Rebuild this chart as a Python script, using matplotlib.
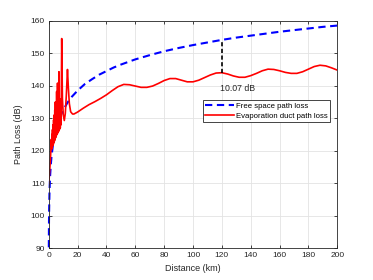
import matplotlib
matplotlib.use('Agg')
import matplotlib.pyplot as plt
import numpy as np

plt.rcParams['font.family'] = ['Liberation Sans', 'DejaVu Sans']

# free space path loss
fs_dist = [0.08, 0.1, 0.15, 0.2, 0.3, 0.5, 0.7, 1, 1.5, 2, 3, 4, 5, 7, 10, 13, 16, 20, 25, 30,
           35, 40, 45, 50, 60, 70, 80, 90, 100, 110, 120, 130, 140, 150, 160, 170, 180, 190, 200]
fs_loss = [90.3, 92.5, 96.0, 98.5, 102.0, 106.5, 109.4, 112.5, 116.0, 118.5, 122.0, 124.5, 126.5,
           129.4, 132.5, 134.8, 136.6, 138.5, 140.5, 142.0, 143.4, 144.5, 145.6, 146.5, 148.1,
           149.4, 150.6, 151.6, 152.5, 153.3, 154.1, 154.8, 155.4, 156.0, 156.6, 157.1, 157.6,
           158.1, 158.5]

# evaporation duct path loss
ed_dist = [0.05, 0.3, 0.6, 1.0, 1.3, 1.6, 1.8, 2.0, 2.2, 2.4, 2.6, 2.8, 3.0, 3.2, 3.4, 3.6,
           3.8, 4.0, 4.2, 4.4, 4.6, 4.8, 5.0, 5.2, 5.5, 5.8, 6.1, 6.4, 6.7, 6.9, 7.1, 7.4, 7.7,
           8.0, 8.3, 8.6, 9.0, 9.5, 10.1, 10.8, 11.5, 12.2, 13.0, 13.6, 14.3, 15.2, 16.5, 17.5,
           20, 24, 28, 32, 36, 40, 44, 48, 52, 56, 60, 64, 68, 72, 76, 80,
           84, 88, 92, 96, 100, 104, 108, 112, 116, 120, 124, 128, 132, 136, 140, 144, 148,
           152, 156, 160, 164, 168, 172, 176, 180, 184, 188, 192, 196, 200]
ed_loss = [110.0, 111.5, 113.5, 116.0, 118.5, 121.0, 123.5, 120.5, 125.0, 121.0, 126.5, 121.5,
           128.0, 122.0, 129.5, 122.5, 131.0, 123.0, 132.5, 123.5, 135.0, 124.0, 134.0, 124.5,
           138.2, 125.0, 140.8, 125.5, 137.0, 126.0, 144.3, 126.5, 136.0, 127.0, 133.0, 128.0,
           154.5, 136.0, 131.0, 129.3, 131.5, 137.0, 145.0, 139.5, 134.5, 132.0, 131.3, 131.3,
           131.9, 133.1, 134.2, 135.1, 136.1, 137.2, 138.5, 139.7, 140.4, 140.3, 139.9, 139.5,
           139.5, 139.9, 140.7, 141.6, 142.2, 142.2, 141.7, 141.2, 141.2, 141.7, 142.5, 143.3,
           143.9, 144.0, 143.6, 143.0, 142.6, 142.6, 143.1, 143.8, 144.6, 145.1, 145.0, 144.6,
           144.1, 143.8, 143.8, 144.3, 145.1, 145.9, 146.3, 146.1, 145.5, 144.8]

annot_d = 120
annot_text = '10.07 dB'

fig = plt.figure(figsize=(3.73, 2.8), dpi=100)
ax = fig.add_axes([0.1306, 0.1132, 0.7737, 0.8129])

ax.plot(fs_dist, fs_loss, color='#0000ff', lw=1.5, linestyle=(0, (3.5, 2.2)),
        label='Free space path loss', clip_on=False)
ax.plot(ed_dist, ed_loss, color='#ff0000', lw=1.2, label='Evaporation duct path loss')

# difference marker
top = np.interp(annot_d, fs_dist, fs_loss)
bot = np.interp(annot_d, ed_dist, ed_loss)
ax.plot([annot_d, annot_d], [bot, top], color='black', lw=1.2, linestyle=(0, (2.5, 1.5)))
ax.text(annot_d - 1.3, 139.0, annot_text, fontsize=6.3, va='center', ha='left', color='#262626')

ax.set_xlim(0, 200)
ax.set_ylim(90, 160)
ax.set_xticks(range(0, 201, 20))
ax.set_yticks(range(90, 161, 10))
ax.grid(True, color='#e3e3e3', lw=0.6)
ax.set_axisbelow(True)
ax.tick_params(direction='in', length=2.5, width=0.6, labelsize=6, colors='#262626',
               top=True, right=True, pad=3)
for s in ax.spines.values():
    s.set_color('#262626')
    s.set_linewidth(0.6)

ax.set_xlabel('Distance (km)', fontsize=6.5, color='#262626', labelpad=3)
ax.set_ylabel('Path Loss (dB)', fontsize=6.5, color='#262626', labelpad=5)

leg = ax.legend(loc='upper left', bbox_to_anchor=(0.534, 0.652), borderaxespad=0,
                fontsize=5.6, fancybox=False, framealpha=1, edgecolor='#262626',
                handlelength=3.7, handletextpad=0.25, borderpad=0.3, labelspacing=0.35)
leg.get_frame().set_linewidth(0.6)

fig.savefig('out.png', dpi=100)
